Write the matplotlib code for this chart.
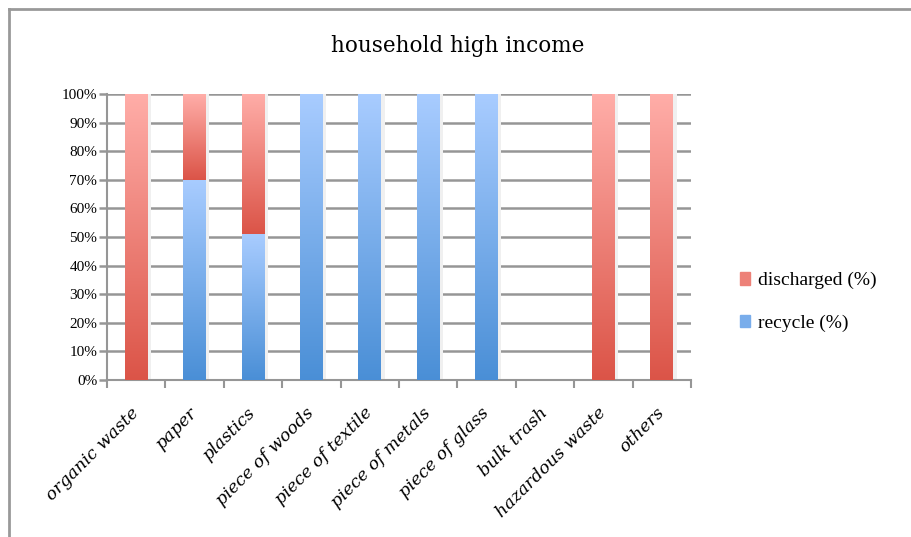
import numpy as np
import matplotlib.pyplot as plt
from matplotlib.patches import Rectangle, Patch
from matplotlib.lines import Line2D
from matplotlib.ticker import FixedLocator, PercentFormatter

categories = ['organic waste', 'paper', 'plastics', 'piece of woods', 'piece of textile',
              'piece of metals', 'piece of glass', 'bulk trash', 'hazardous waste', 'others']
recycle = [0, 70, 51, 100, 100, 100, 100, 0, 0, 0]
discharged = [100, 30, 49, 0, 0, 0, 0, 0, 100, 100]

red_dark, red_light = np.array([0.86, 0.33, 0.28]), np.array([1.0, 0.68, 0.66])
blue_dark, blue_light = np.array([0.29, 0.56, 0.84]), np.array([0.66, 0.80, 1.0])

fig = plt.figure(figsize=(9.11, 5.37), dpi=100)
ax = fig.add_axes([107 / 911, 1 - 380 / 537, (691 - 107) / 911, (380 - 94) / 537])

W = 0.39


def grad_bar(x, y0, h, c0, c1):
    if h <= 0:
        return
    t = np.linspace(0, 1, 200)[:, None]
    img = (c0[None, :] * (1 - t) + c1[None, :] * t)[:, None, :]
    # faint shadow on the right side
    ax.add_patch(Rectangle((x - W / 2 + 0.03, y0), W + 0.03, h, color='#f0f0f0', lw=0, zorder=2))
    ax.imshow(img, extent=(x - W / 2, x + W / 2, y0, y0 + h), origin='lower',
              aspect='auto', zorder=3, interpolation='bilinear')


for i, (r, d) in enumerate(zip(recycle, discharged)):
    grad_bar(i, 0, r, blue_dark, blue_light)
    grad_bar(i, r, d, red_dark, red_light)

ax.set_xlim(-0.5, 9.5)
ax.set_ylim(0, 100)
ax.set_yticks(np.arange(0, 101, 10))
ax.yaxis.set_major_formatter(PercentFormatter(decimals=0))
ax.grid(axis='y', color='#969696', lw=1.8, zorder=1)
ax.set_axisbelow(True)
for s in ['top', 'right']:
    ax.spines[s].set_visible(False)
for s in ['left', 'bottom']:
    ax.spines[s].set_color('#969696')
    ax.spines[s].set_linewidth(1.5)
ax.tick_params(axis='y', length=6, width=1.8, color='#969696', labelsize=11, pad=1)

ax.set_xticks(range(len(categories)))
ax.set_xticklabels(categories, rotation=45, ha='right', va='center', rotation_mode='anchor',
                   fontsize=12.5, fontstyle='italic', family='DejaVu Serif')
ax.tick_params(axis='x', which='major', length=0, pad=22)
ax.xaxis.set_minor_locator(FixedLocator(np.arange(-0.5, 10, 1)))
ax.tick_params(axis='x', which='minor', length=6, width=1.5, color='#969696')
for lab in ax.get_yticklabels():
    lab.set_family('Liberation Serif')

fig.text(0.5 + 2 / 911, 1 - 46 / 537, 'household high income', ha='center', va='center',
         fontsize=15.5, family='DejaVu Serif')

handles = [Patch(color=(red_dark + red_light) / 2, label='discharged (%)'),
           Patch(color=(blue_dark + blue_light) / 2, label='recycle (%)')]
fig.legend(handles=handles, loc='center left', bbox_to_anchor=(722 / 911, 1 - 302 / 537),
           frameon=False, handlelength=0.55, handleheight=0.6,
           handletextpad=0.4, labelspacing=1.3, prop={'family': 'Liberation Serif', 'size': 14})

fig.add_artist(Line2D([9 / 911, 9 / 911], [0, 1 - 9 / 537], color='#999999', lw=2))
fig.add_artist(Line2D([9 / 911, 1], [1 - 9 / 537, 1 - 9 / 537], color='#999999', lw=2))

fig.savefig('out.png', dpi=100)
